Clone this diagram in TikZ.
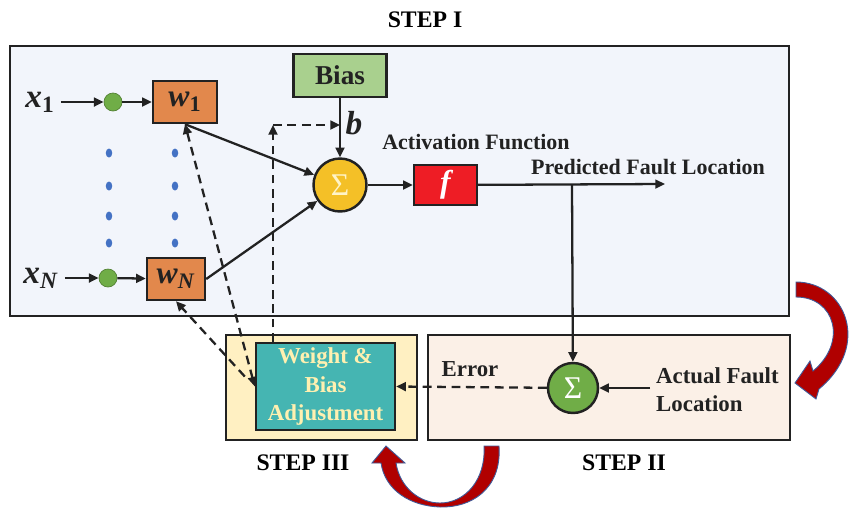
\documentclass[tikz,border=0pt]{standalone}
\usepackage{fontspec}
\setmainfont{Liberation Serif}
\usetikzlibrary{arrows.meta,calc}

\definecolor{panelblue}{HTML}{F2F5FB}
\definecolor{panelyellow}{HTML}{FFF0C2}
\definecolor{panelpeach}{HTML}{FBF0E7}
\definecolor{wtorange}{HTML}{E2884C}
\definecolor{biasgreen}{HTML}{A9D08E}
\definecolor{nodegreen}{HTML}{70AD47}
\definecolor{sumyellow}{HTML}{F4C027}
\definecolor{sigmapale}{HTML}{FFF4C8}
\definecolor{actred}{HTML}{EE1D25}
\definecolor{adjteal}{HTML}{45B5B2}
\definecolor{adjtext}{HTML}{FFF0B0}
\definecolor{dotblue}{HTML}{4472C4}
\definecolor{loopred}{HTML}{B00000}
\definecolor{loopedge}{HTML}{3F5B9A}
\definecolor{ink}{HTML}{222222}

\newcommand{\bivar}[2]{\textbf{\textit{#1}}\textsubscript{\textbf{#2}}}

\begin{document}
\begin{tikzpicture}[x=0.02cm,y=-0.02cm,
    box/.style={draw=ink,line width=1.4pt,inner sep=0pt},
    wbox/.style={box,fill=wtorange,minimum height=0.84cm,font=\fontsize{18}{18}\selectfont,text=ink},
    innode/.style={circle,fill=nodegreen,draw=nodegreen!75!black,line width=0.4pt,minimum size=0.36cm,inner sep=0pt},
    sumnode/.style={circle,draw=ink,line width=1.4pt,inner sep=0pt,font=\fontsize{18}{18}\selectfont},
    link/.style={draw=ink,line width=1.3pt,-{Triangle[length=5.5pt,width=5pt]}},
    fb/.style={link,dash pattern=on 5pt off 3.2pt},
    lbl/.style={font=\fontsize{12.5}{15}\selectfont\bfseries,text=ink},
    steplbl/.style={font=\fontsize{13.5}{15}\selectfont\bfseries},
    varlbl/.style={font=\fontsize{19}{19}\selectfont,text=ink},
    looparrow/.style={fill=loopred,draw=loopedge,line width=0.5pt}]

  \fill[white] (0,0) rectangle (850,508);
  \useasboundingbox (0,0) rectangle (850,508);
  \clip (0,0) rectangle (850,508);

  % panels
  \filldraw[fill=panelblue,draw=ink,line width=1.5pt] (10,46) rectangle (789,316);
  \filldraw[fill=panelyellow,draw=ink,line width=1.5pt] (226,335) rectangle (417,440);
  \filldraw[fill=panelpeach,draw=ink,line width=1.5pt] (428,335) rectangle (790,440);

  \node (steplbl1) [steplbl] at (425,20) {STEP I};
  \node (steplbl3) [steplbl] at (303,463) {STEP III};
  \node (steplbl2) [steplbl] at (624,463) {STEP II};

  % inputs and weights
  \node (xone) [varlbl] at (40,102) {\bivar{x}{1}};
  \node (inone) [innode] at (113,102) {};
  \node (wone) [wbox,minimum width=1.28cm] at (185,102) {\bivar{w}{1}};

  \node (xlast) [varlbl] at (41,278) {\bivar{x}{\textit{N}}};
  \node (inlast) [innode] at (108,278) {};
  \node (wlast) [wbox,minimum width=1.16cm] at (176,279) {\bivar{w}{\textit{N}}};

  \foreach \y in {153,186,216,243}{
    \fill[dotblue] (109,\y) ellipse (0.065cm and 0.09cm);
    \fill[dotblue] (175,\y) ellipse (0.065cm and 0.09cm);
  }

  % summation and activation
  \node (bias) [box,fill=biasgreen,minimum width=1.86cm,minimum height=0.86cm,
    font=\fontsize{15.5}{15.5}\selectfont\bfseries,text=ink] at (340,75.5) {Bias};
  \node (sumone) [sumnode,fill=sumyellow,minimum size=1.06cm,text=sigmapale] at (340,185) {Σ};
  \node (blbl) [varlbl] at (354,123) {\textbf{\textit{b}}};
  \node (act) [box,fill=actred,minimum width=1.26cm,minimum height=0.8cm,
    font=\fontsize{18}{18}\selectfont\bfseries\itshape,text=white] at (445.5,185) {f};
  \node (actlbl) [lbl] at (476,142) {Activation Function};
  \node (predlbl) [lbl] at (648,167) {Predicted Fault Location};
  \coordinate (predend) at (665,184);
  \coordinate (tap) at (572,184);

  % error and adjustment
  \node (adjust) [box,fill=adjteal,text=adjtext,minimum width=2.78cm,minimum height=1.74cm,
    align=center,font=\fontsize{13}{16.5}\selectfont\bfseries] at (325.5,386.5) {Weight \&\\Bias\\Adjustment};
  \node (sumtwo) [sumnode,fill=nodegreen,minimum size=1.0cm,text=white] at (573,388) {Σ};
  \node (errlbl) [lbl,font=\fontsize{13}{15}\selectfont\bfseries] at (470,369) {Error};
  \node (actual) [lbl,font=\fontsize{13}{16}\selectfont\bfseries,align=left,anchor=west] at (650,390) {Actual Fault\\Location};

  \draw[link] (xone.east |- inone) -- (inone);
  \draw[link] (inone) -- (wone);
  \draw[link] (xlast.east |- inlast) -- (inlast);
  \draw[link] (inlast) -- (wlast);
  \draw[link] (wone.south) -- (sumone);
  \draw[link] (wlast.east) -- (sumone);
  \draw[link] (bias) -- (sumone);
  \draw[link] (sumone) -- (act);
  \draw[link] (act) -- (predend);
  \draw[link] (tap) -- (sumtwo);
  \draw[link] (actual.west |- sumtwo) -- (sumtwo);
  \draw[fb] (sumtwo) -- (adjust.east);

  % feedback to weights and bias
  \coordinate (bcorner) at (273,125);
  \draw[fb] (adjust.north -| bcorner) -- (bcorner);
  \draw[fb] (bcorner) -- (bias.south |- bcorner);
  \draw[fb,{Triangle[length=5.5pt,width=5pt]}-{Triangle[length=5.5pt,width=5pt]}] (wone.south) -- (adjust.west);
  \draw[fb] ($(adjust.west)+(-10,-10)$) -- (wlast.south);

  % loop arrows
  \filldraw[looparrow] (796,282) .. controls (845,282) and (872,345) .. (819,389)
    -- (816,399) -- (795,383) -- (810,361) -- (813,371)
    .. controls (848,342) and (835,297) .. (796,297) -- cycle;
  \filldraw[looparrow] (499,446) .. controls (502,490) and (470,508) .. (440,507)
    .. controls (410,506) and (385,490) .. (381,463) -- (372,463) -- (386,446)
    -- (405,463) -- (396,463) .. controls (400,488) and (420,503) .. (440,503)
    .. controls (465,503) and (486,480) .. (484,446) -- cycle;
\end{tikzpicture}
\end{document}
